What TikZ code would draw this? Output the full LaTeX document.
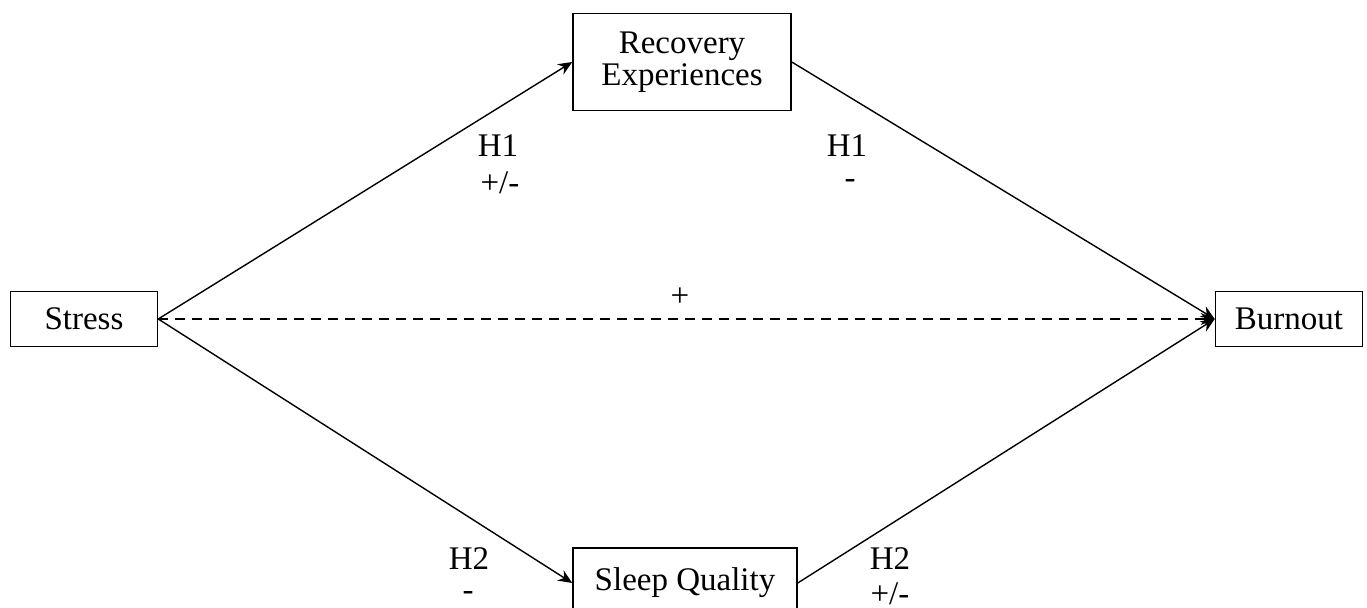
\documentclass[tikz,border=0pt]{standalone}
\usepackage{fontspec}
\setmainfont{Liberation Serif}
\usetikzlibrary{arrows.meta,positioning}

\begin{document}
\begin{tikzpicture}[x=0.5pt, y=-0.5pt, every node/.style={font=\fontsize{16.5}{18}\selectfont}, box/.style={draw,line width=0.75pt,align=center,inner sep=0pt,minimum width=73.5pt,minimum height=27.5pt}, path/.style={-{Stealth[length=7pt,width=6pt]}, line width=0.7pt}, sign/.style={inner sep=0pt}]
\useasboundingbox (0,0) rectangle (1367,608);
\node[box] (stress) at (84,319) {Stress};
\node[box, minimum width=109pt, minimum height=48.5pt] (recovery) at (682,62) {Recovery\\[-2pt]Experiences};
\node[box, minimum width=112pt, minimum height=35pt] (sleep) at (685,583) {Sleep Quality};
\node[box] (burnout) at (1289,319) {Burnout};
\draw[path] (stress.east) -- (recovery.west);
\draw[path] (recovery.east) -- (burnout.west);
\draw[path] (stress.east) -- (sleep.west);
\draw[path] (sleep.east) -- (burnout.west);
\draw[path, dash pattern=on 5pt off 3.5pt] (stress.east) -- (burnout.west);
\node[sign] (h1a) at (498,146) {H1};
\node[sign] (h1as) at (500,183) {+/-};
\node[sign] (h1b) at (847,146) {H1};
\node[sign] (h1bs) at (850,184) {-};
\node[sign] (direct) at (680,297) {+};
\node[sign] (h2a) at (469,559) {H2};
\node[sign] (h2as) at (468,596) {-};
\node[sign] (h2b) at (890,559) {H2};
\node[sign] (h2bs) at (890,594) {+/-};
\end{tikzpicture}
\end{document}
